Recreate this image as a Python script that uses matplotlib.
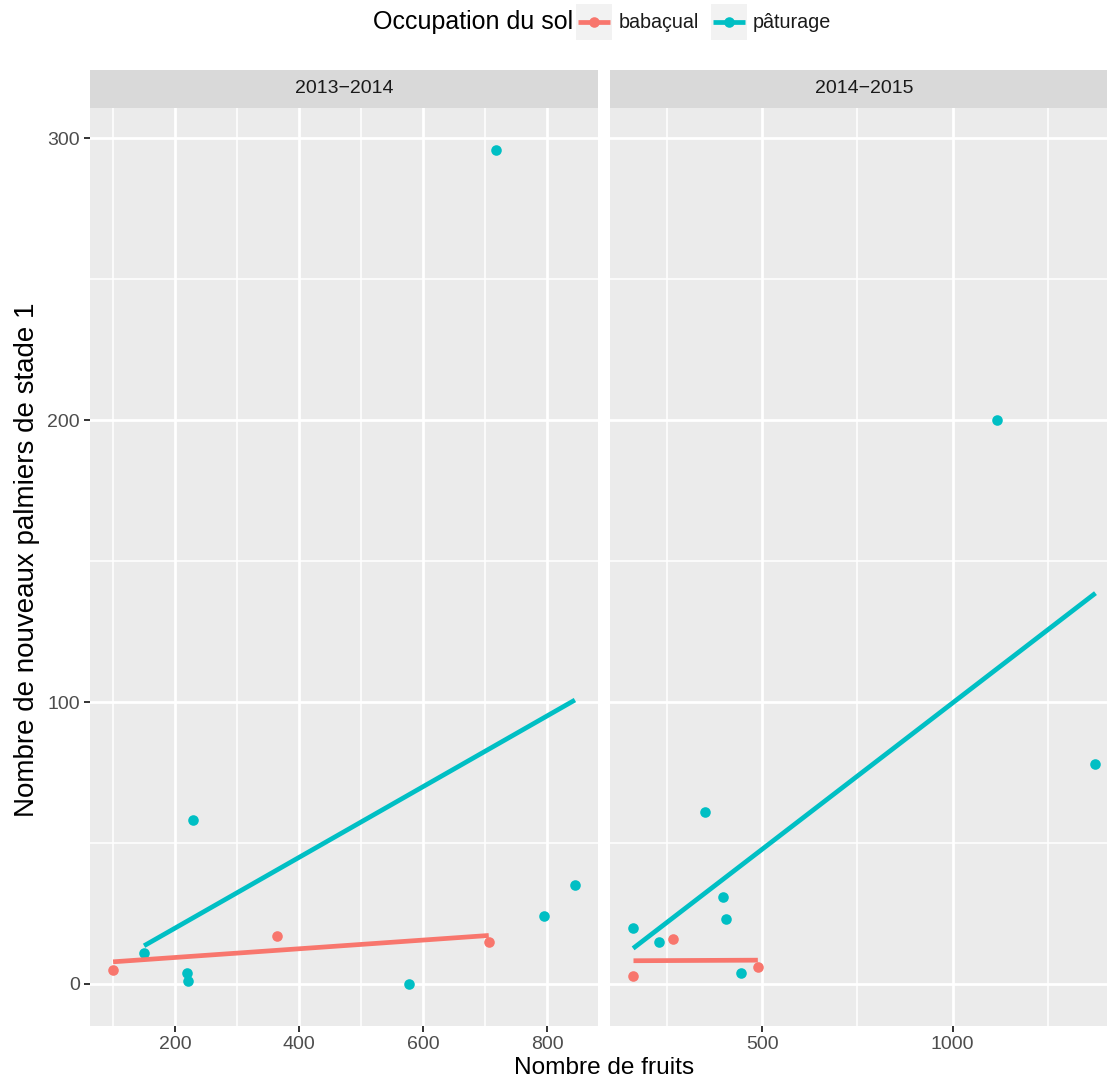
import numpy as np
import matplotlib
matplotlib.use("Agg")
import matplotlib.pyplot as plt
from matplotlib.patches import Rectangle
from matplotlib.lines import Line2D
from matplotlib.ticker import FixedLocator

plt.rcParams['font.family'] = ['Liberation Sans', 'DejaVu Sans']

# ---- data ----
periods = ["2013\u22122014", "2014\u22122015"]
groups = ["babaçual", "pâturage"]
colors = {"babaçual": "#F8766D", "pâturage": "#00BFC4"}

x_2013_babacual = [100, 364, 706]
y_2013_babacual = [5, 17, 15]
x_2013_paturage = [150, 220, 221, 229, 578, 718, 795, 845]
y_2013_paturage = [11, 4, 1, 58, 0, 296, 24, 35]

x_2014_babacual = [161, 265, 488]
y_2014_babacual = [3, 16, 6]
x_2014_paturage = [160, 229, 350, 397, 403, 443, 1116, 1376]
y_2014_paturage = [20, 15, 61, 31, 23, 4, 200, 78]

data = {
    periods[0]: {"babaçual": (x_2013_babacual, y_2013_babacual),
                 "pâturage": (x_2013_paturage, y_2013_paturage)},
    periods[1]: {"babaçual": (x_2014_babacual, y_2014_babacual),
                 "pâturage": (x_2014_paturage, y_2014_paturage)},
}
x_major = {periods[0]: [200, 400, 600, 800], periods[1]: [500, 1000]}
x_minor = {periods[0]: [100, 300, 500, 700], periods[1]: [250, 750, 1250]}
y_major = [0, 100, 200, 300]
y_minor = [50, 150, 250]

W, H = 1107, 1082
fig = plt.figure(figsize=(W / 100, H / 100), dpi=100)

def fx(px):
    return px / W

def fy(py):
    return 1 - py / H

panel_top, panel_bot = 107.8, 1025.7
panels_px = [(90, 598), (610, 1118.6)]
strip_top = 70

TICK_COL = "#4D4D4D"
TXT_COL = "#1A1A1A"

# y range shared
all_y = np.concatenate([np.asarray(v[1], float) for p in periods for v in data[p].values()])
yr = all_y.max() - all_y.min()
ylim = (all_y.min() - 0.05 * yr, all_y.max() + 0.05 * yr)

for i, p in enumerate(periods):
    l, r = panels_px[i]
    ax = fig.add_axes([fx(l), fy(panel_bot), fx(r - l), (panel_bot - panel_top) / H])
    ax.set_facecolor("#EBEBEB")
    for s in ax.spines.values():
        s.set_visible(False)
    ax.set_axisbelow(True)

    all_x = np.concatenate([np.asarray(v[0], float) for v in data[p].values()])
    xr = all_x.max() - all_x.min()
    ax.set_xlim(all_x.min() - 0.05 * xr, all_x.max() + 0.05 * xr)
    ax.set_ylim(*ylim)

    ax.xaxis.set_major_locator(FixedLocator(x_major[p]))
    ax.xaxis.set_minor_locator(FixedLocator(x_minor[p]))
    ax.yaxis.set_major_locator(FixedLocator(y_major))
    ax.yaxis.set_minor_locator(FixedLocator(y_minor))
    ax.grid(which="major", color="white", linewidth=2.0)
    ax.grid(which="minor", color="white", linewidth=1.1)
    ax.tick_params(which="minor", length=0)
    ax.tick_params(which="major", length=4.3, width=1.4, color="#333333",
                   labelsize=14, labelcolor=TICK_COL, pad=3)
    if i == 0:
        ax.set_yticklabels([str(v) for v in y_major])
    else:
        ax.tick_params(axis="y", which="major", length=0, labelleft=False)
    ax.set_xticklabels([str(v) for v in x_major[p]])

    for g in groups:
        xs, ys = np.asarray(data[p][g][0], float), np.asarray(data[p][g][1], float)
        ax.scatter(xs, ys, s=58, color=colors[g], zorder=3, linewidths=0)
        coef = np.polyfit(xs, ys, 1)
        xx = np.linspace(xs.min(), xs.max(), 80)
        ax.plot(xx, np.polyval(coef, xx), color=colors[g], linewidth=3.4,
                zorder=4, solid_capstyle="butt")

    # strip
    sax = fig.add_axes([fx(l), fy(panel_top), fx(r - l), (panel_top - strip_top) / H])
    sax.set_facecolor("#D9D9D9")
    sax.set_xticks([]); sax.set_yticks([])
    for s in sax.spines.values():
        s.set_visible(False)
    sax.text(0.5, 0.5, p, ha="center", va="center", fontsize=14,
             color=TXT_COL, transform=sax.transAxes)

# axis titles
fig.text(fx(604), fy(1068), "Nombre de fruits", ha="center", va="center",
         fontsize=17.6, color="black")
fig.text(fx(27), fy(560), "Nombre de nouveaux palmiers de stade 1", ha="center",
         va="center", rotation=90, fontsize=20, color="black")

# legend (top, horizontal)
fig.text(fx(373), fy(22), "Occupation du sol", ha="left", va="center",
         fontsize=18, color="black")
key_specs = [(576, 619, "babaçual"), (711, 753, "pâturage")]
for kx, lx, g in key_specs:
    fig.patches.append(Rectangle((fx(kx), fy(40)), fx(36), 36 / H,
                                 transform=fig.transFigure, facecolor="#F2F2F2",
                                 edgecolor="none"))
    fig.lines.append(Line2D([fx(kx + 2), fx(kx + 34)], [fy(22), fy(22)],
                            transform=fig.transFigure, color=colors[g],
                            linewidth=3.4, solid_capstyle="butt"))
    fig.lines.append(Line2D([fx(kx + 18)], [fy(22)], transform=fig.transFigure,
                            color=colors[g], marker="o", markersize=7.6,
                            markeredgewidth=0))
    fig.text(fx(lx), fy(22), g, ha="left", va="center", fontsize=14.2, color=TXT_COL)

fig.savefig("out.png", dpi=100, facecolor="white")
